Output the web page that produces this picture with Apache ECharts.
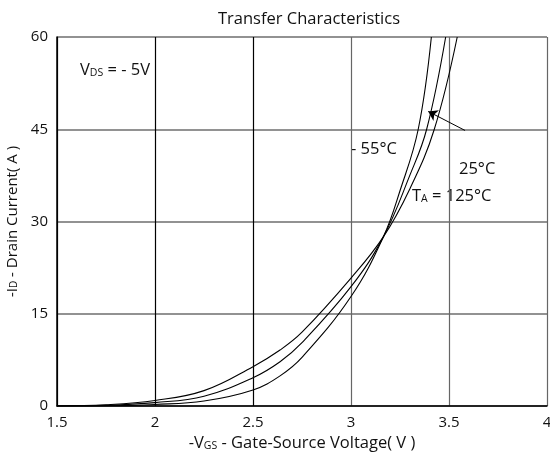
<!DOCTYPE html>
<html><head><meta charset="utf-8">
<script src="https://cdn.jsdelivr.net/npm/echarts@6/dist/echarts.min.js"></script>
<style>html,body{margin:0;padding:0;background:#fff}#c{width:550px;height:458px}</style>
</head><body><div id="c"></div>
<script>
const xTicks = [1.5, 2, 2.5, 3, 3.5, 4];
const yTicks = [0, 15, 30, 45, 60];
const vgsM55 = [1.5, 1.75, 2.0, 2.25, 2.5, 2.638, 2.75, 3.0, 3.165, 3.25, 3.343, 3.41];
const idM55  = [0, 0.03, 0.25, 0.8, 2.6, 4.9, 7.9, 17.8, 27.5, 35, 45, 60];
const vgs25  = [1.5, 1.75, 2.0, 2.25, 2.5, 2.638, 2.75, 3.0, 3.165, 3.3, 3.386, 3.483];
const id25   = [0, 0.1, 0.55, 1.6, 4.6, 7.2, 10.3, 19.4, 27.5, 37.5, 45, 60];
const vgs125 = [1.5, 1.75, 2.0, 2.25, 2.5, 2.638, 2.75, 3.0, 3.165, 3.3, 3.425, 3.542];
const id125  = [0, 0.2, 0.9, 2.5, 6.4, 9.1, 12.0, 20.8, 27.5, 35.3, 45, 60];
const arrowFrom = [3.582, 44.8];
const arrowTo = [3.394, 47.9];

const pairs = (xs, ys) => xs.map((x, i) => [x, ys[i]]);
const font = '"Open Sans", Lato, sans-serif';
const chart = echarts.init(document.getElementById('c'));
const lineSeries = (name, xs, ys) => ({
  name, type: 'line', data: pairs(xs, ys), smooth: 0.4,
  symbol: 'none', lineStyle: { color: '#000', width: 1.1 }, z: 5
});
const s25 = lineSeries('25', vgs25, id25);
s25.markLine = {
  silent: true, symbol: ['none', 'arrow'], symbolSize: 9,
  lineStyle: { color: '#000', width: 1, type: 'solid' }, label: { show: false },
  data: [[{ coord: arrowFrom }, { coord: arrowTo }]]
};
const sub = { fontFamily: font, fontSize: 10.5, color: '#111', padding: [5, 0, 0, 0] };
const big = { fontFamily: font, fontSize: 16.5, color: '#111' };
const ySub = { fontFamily: font, fontSize: 10, color: '#111', padding: [4, 0, 0, 0] };
const yBig = { fontFamily: font, fontSize: 15, color: '#111' };
const ann = { fontFamily: font, fontSize: 16.5, fill: '#111' };
const annSub = { fontFamily: font, fontSize: 10.5, fill: '#111', padding: [6, 0, 0, 0] };
chart.setOption({
  animation: false,
  title: { text: 'Transfer Characteristics', left: 213, top: 6,
    textStyle: { fontFamily: font, fontSize: 16.5, fontWeight: 'normal', color: '#111' } },
  grid: { left: 57, right: 3, top: 37, bottom: 52, outerBoundsMode: 'none', containLabel: false },
  xAxis: {
    type: 'value', min: 1.5, max: 4, interval: 0.5,
    axisLine: { show: true, lineStyle: { color: '#000', width: 1.5 } },
    axisTick: { show: false },
    axisLabel: { fontFamily: font, fontSize: 15, color: '#111', margin: 9,
      formatter: v => (xTicks.includes(v) ? String(v) : '') },
    splitLine: { show: true, lineStyle: { color: ['#000', '#000', '#000', '#666', '#666', '#666'], width: 1.2 } },
    name: '{a|-V}{s|GS}{a| - Gate-Source Voltage( V )}', nameLocation: 'middle', nameGap: 29,
    nameTextStyle: { rich: { a: big, s: sub } }
  },
  yAxis: {
    type: 'value', min: 0, max: 60, interval: 15,
    axisLine: { show: true, lineStyle: { color: '#000', width: 1.5 } },
    axisTick: { show: false },
    axisLabel: { fontFamily: font, fontSize: 15, color: '#111', margin: 9,
      formatter: v => (yTicks.includes(v) ? String(v) : '') },
    splitLine: { show: true, lineStyle: { color: '#6e6e6e', width: 1.5 } },
    name: '{a|-I}{s|D}{a| - Drain Current( A )}', nameLocation: 'middle', nameGap: 34, nameRotate: 90,
    nameTextStyle: { rich: { a: yBig, s: ySub } }
  },
  series: [lineSeries('-55', vgsM55, idM55), s25, lineSeries('125', vgs125, id125)],
  graphic: [
    { type: 'text', left: 80, top: 62, style: { rich: { a: ann, s: annSub }, text: '{a|V}{s|DS}{a| = - 5V}' } },
    { type: 'text', left: 351, top: 141, style: Object.assign({ text: '- 55°C' }, ann) },
    { type: 'text', left: 459, top: 161, style: Object.assign({ text: '25°C' }, ann) },
    { type: 'text', left: 412, top: 188, style: { rich: { a: ann, s: annSub }, text: '{a|T}{s|A}{a| = 125°C}' } }
  ]
});
</script></body></html>
